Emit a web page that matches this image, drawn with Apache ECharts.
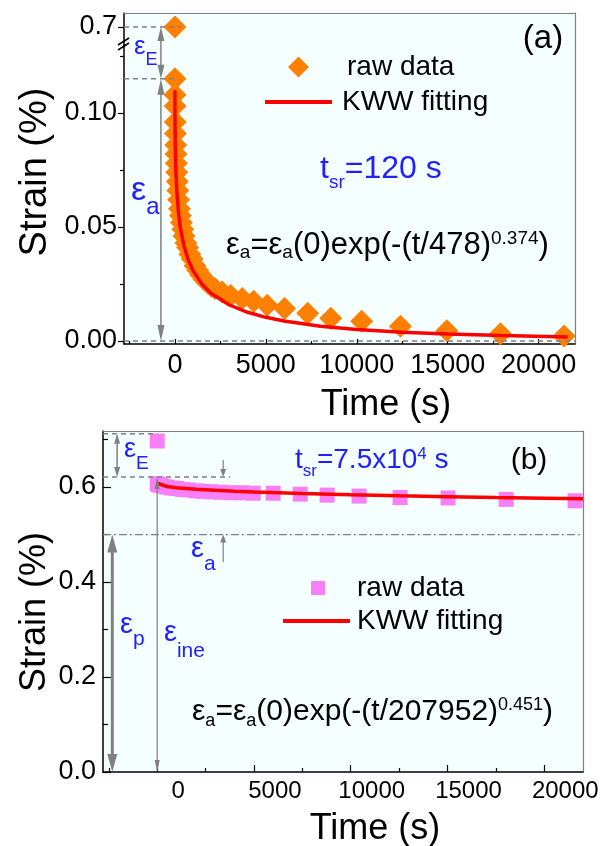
<!DOCTYPE html>
<html><head><meta charset="utf-8">
<script src="https://cdn.jsdelivr.net/npm/echarts@6/dist/echarts.min.js"></script>
<style>html,body{margin:0;padding:0;background:#fff}#c{width:606px;height:846px}</style>
</head><body><div id="c"></div>
<script>
// ---------- data ----------
// Panel (a): t_sr = 120 s
const timeRawA = [0, 0, 5, 10, 20, 30, 45, 60, 80, 100, 130, 160, 200, 250, 300, 360, 430, 500, 600, 700, 820, 950, 1100, 1250, 1420, 1600, 1800, 2000, 2200, 2600, 3070, 3700, 4330, 5070, 6030, 7300, 8570, 10270, 12400, 14950, 17900, 21400];
const strainRawA = [0.700, 0.115, 0.108, 0.103, 0.096, 0.091, 0.086, 0.082, 0.078, 0.074, 0.070, 0.066, 0.062, 0.058, 0.055, 0.052, 0.049, 0.046, 0.043, 0.041, 0.038, 0.036, 0.033, 0.031, 0.029, 0.027, 0.0255, 0.024, 0.023, 0.0215, 0.020, 0.0187, 0.0174, 0.0157, 0.0143, 0.0122, 0.0100, 0.0087, 0.0065, 0.0045, 0.0032, 0.0022];
const timeFitA = [0, 2, 5, 20, 50, 100, 200, 300, 500, 750, 1000, 1500, 2000, 3000, 4000, 5000, 6000, 8000, 10000, 12500, 15000, 18000, 21600];
const strainFitA = [0.110, 0.101, 0.096, 0.0848, 0.0748, 0.0659, 0.0559, 0.0496, 0.0416, 0.0352, 0.0308, 0.0248, 0.0208, 0.0158, 0.0126, 0.0104, 0.0088, 0.0065, 0.0051, 0.0039, 0.0031, 0.0024, 0.0018];
// Panel (b): t_sr = 7.5x10^4 s
const timeRawB = [0, 0, 50, 150, 300, 500, 750, 1000, 1300, 1600, 2000, 2400, 2800, 3300, 3800, 4400, 4960, 5990, 7390, 8780, 10430, 12550, 15030, 18030, 21590];
const strainRawB = [0.697, 0.607, 0.605, 0.604, 0.602, 0.600, 0.598, 0.597, 0.595, 0.594, 0.592, 0.591, 0.590, 0.589, 0.588, 0.588, 0.587, 0.587, 0.585, 0.583, 0.581, 0.578, 0.577, 0.574, 0.571];
const timeFitB = [0, 100, 500, 1000, 2000, 3000, 4000, 5000, 7500, 10000, 12500, 15000, 17500, 20000, 22000];
const strainFitB = [0.608, 0.6046, 0.6011, 0.5987, 0.5955, 0.5932, 0.5913, 0.5897, 0.5864, 0.5837, 0.5815, 0.5796, 0.5778, 0.5763, 0.5752];
// ticks
const xTickValues = [0, 5000, 10000, 15000, 20000];
const xMinorTicks = [-2500, 2500, 7500, 12500, 17500];
const yTicksATop = [0.7];
const yTicksA = [0, 0.05, 0.10];
const yMinorA = [0.025, 0.075, 0.125];
const yTicksB = [0, 0.2, 0.4, 0.6];
const yMinorB = [0.1, 0.3, 0.5, 0.7];
// annotation levels (strain values)
const epsE_A = [0.7, 0.115];
const epsE_B = [0.712, 0.621];
const epsP_B = 0.50;

// ---------- styling ----------
const FONT = '"Liberation Sans", Arial, Helvetica, sans-serif';
const BG = '#f5ffff', GRAY = '#808080', BLUE = '#2020ff';
const ORANGE = '#ff8000', PINK = '#f77ff7', RED = '#ff0000';
const X_MIN = -2800, X_MAX = 22000;

const pairs = (xs, ys, f) => xs.map((x, i) => [x, ys[i]]).filter(p => f ? f(p) : true);

const chart = echarts.init(document.getElementById('c'), null, {renderer: 'canvas'});

function gridAxisX(gi, extra) {
  return Object.assign({gridIndex: gi, type: 'value', min: X_MIN, max: X_MAX, splitLine: {show: false}}, extra);
}
function gridAxisY(gi, min, max, extra) {
  return Object.assign({gridIndex: gi, type: 'value', min, max, splitLine: {show: false}}, extra);
}
const noLabel = {show: false};
const grayLine = {onZero: false, lineStyle: {color: GRAY, width: 1.2}};
const blackLine = {onZero: false, lineStyle: {color: '#000', width: 1.5}};
const tickLine = {color: '#000', width: 1.2};
const plain = v => String(v);

const option = {
  animation: false,
  backgroundColor: '#ffffff',
  textStyle: {fontFamily: FONT},
  grid: [
    {left: 124, top: 13, width: 451, height: 32, show: true, backgroundColor: BG, borderWidth: 0},
    {left: 124, top: 45, width: 451, height: 299, show: true, backgroundColor: BG, borderWidth: 0},
    {left: 103, top: 431, width: 480, height: 341, show: true, backgroundColor: BG, borderWidth: 0}
  ],
  xAxis: [
    gridAxisX(0, {position: 'top', axisLine: grayLine, axisTick: {show: false}, axisLabel: noLabel}),
    gridAxisX(1, {position: 'bottom', axisLine: blackLine,
      axisTick: {inside: true, length: 5, customValues: xTickValues, lineStyle: tickLine},
      axisLabel: {customValues: xTickValues, formatter: plain, fontSize: 27, color: '#000', fontFamily: FONT, margin: 8}}),
    gridAxisX(1, {position: 'bottom', axisLine: {show: false, onZero: false},
      axisTick: {inside: true, length: 3, customValues: xMinorTicks, lineStyle: tickLine}, axisLabel: noLabel}),
    gridAxisX(2, {position: 'bottom', axisLine: blackLine,
      axisTick: {inside: true, length: 7, customValues: xTickValues, lineStyle: tickLine},
      axisLabel: {customValues: xTickValues, formatter: plain, fontSize: 24, color: '#000', fontFamily: FONT, margin: 7, padding: [0, 0, 0, 42]}}),
    gridAxisX(2, {position: 'bottom', axisLine: {show: false, onZero: false},
      axisTick: {inside: true, length: 4, customValues: xMinorTicks, lineStyle: tickLine}, axisLabel: noLabel}),
    gridAxisX(2, {position: 'top', axisLine: grayLine, axisTick: {show: false}, axisLabel: noLabel})
  ],
  yAxis: [
    gridAxisY(0, 0.6921, 0.7061, {position: 'left', axisLine: blackLine,
      axisTick: {inside: false, length: 6, customValues: yTicksATop, lineStyle: tickLine},
      axisLabel: {customValues: yTicksATop, formatter: v => v.toFixed(1), fontSize: 27, color: '#000', fontFamily: FONT, margin: 7}}),
    gridAxisY(0, 0.6921, 0.7061, {position: 'right', axisLine: grayLine, axisTick: {show: false}, axisLabel: noLabel}),
    gridAxisY(1, -0.0013, 0.1298, {position: 'left', axisLine: blackLine,
      axisTick: {inside: false, length: 6, customValues: yTicksA, lineStyle: tickLine},
      axisLabel: {customValues: yTicksA, formatter: v => v.toFixed(2), fontSize: 27, color: '#000', fontFamily: FONT, margin: 7}}),
    gridAxisY(1, -0.0013, 0.1298, {position: 'left', axisLine: {show: false, onZero: false},
      axisTick: {inside: false, length: 4, customValues: yMinorA, lineStyle: tickLine}, axisLabel: noLabel}),
    gridAxisY(1, -0.0013, 0.1298, {position: 'right', axisLine: grayLine, axisTick: {show: false}, axisLabel: noLabel}),
    gridAxisY(2, 0, 0.718, {position: 'left', axisLine: blackLine,
      axisTick: {inside: true, length: 8, customValues: yTicksB, lineStyle: tickLine},
      axisLabel: {customValues: yTicksB, formatter: v => v.toFixed(1), fontSize: 27, color: '#000', fontFamily: FONT, margin: 7}}),
    gridAxisY(2, 0, 0.718, {position: 'left', axisLine: {show: false, onZero: false},
      axisTick: {inside: true, length: 5, customValues: yMinorB, lineStyle: tickLine}, axisLabel: noLabel}),
    gridAxisY(2, 0, 0.718, {position: 'right', axisLine: grayLine, axisTick: {show: false}, axisLabel: noLabel})
  ],
  legend: [
    {data: [{name: 'raw data', icon: 'diamond'}], left: 288, top: 53, orient: 'vertical', padding: 0, selectedMode: false,
      itemWidth: 21, itemHeight: 21, textStyle: {fontSize: 28, fontFamily: FONT, color: '#000', lineHeight: 28, padding: [0, 0, 0, 33]}},
    {data: [{name: 'KWW fitting', icon: 'rect'}], left: 265, top: 88, orient: 'vertical', padding: 0, selectedMode: false,
      itemWidth: 67, itemHeight: 4, textStyle: {fontSize: 28, fontFamily: FONT, color: '#000', lineHeight: 28, padding: [0, 0, 0, 5]}},
    {data: [{name: 'raw data ', icon: 'rect'}], left: 311, top: 574, orient: 'vertical', padding: 0, selectedMode: false,
      itemWidth: 14, itemHeight: 14, textStyle: {fontSize: 28, fontFamily: FONT, color: '#000', lineHeight: 28, padding: [0, 0, 0, 27]}},
    {data: [{name: 'KWW fitting ', icon: 'rect'}], left: 283, top: 607, orient: 'vertical', padding: 0, selectedMode: false,
      itemWidth: 67, itemHeight: 4, textStyle: {fontSize: 28, fontFamily: FONT, color: '#000', lineHeight: 28, padding: [0, 0, 0, 2]}}
  ],
  series: [
    {name: 'raw data', type: 'scatter', xAxisIndex: 0, yAxisIndex: 0, symbol: 'diamond', symbolSize: 23,
      itemStyle: {color: ORANGE, opacity: 1}, color: ORANGE, data: pairs(timeRawA, strainRawA, p => p[1] > 0.5)},
    {name: 'raw data', type: 'scatter', xAxisIndex: 1, yAxisIndex: 2, symbol: 'diamond', symbolSize: 23,
      itemStyle: {color: ORANGE, opacity: 1}, color: ORANGE, data: pairs(timeRawA, strainRawA, p => p[1] <= 0.5)},
    {name: 'KWW fitting', type: 'line', xAxisIndex: 1, yAxisIndex: 2, showSymbol: false, color: RED,
      lineStyle: {color: RED, width: 3.5}, data: pairs(timeFitA, strainFitA)},
    {name: 'raw data ', type: 'scatter', xAxisIndex: 3, yAxisIndex: 5, symbol: 'rect', symbolSize: 15,
      itemStyle: {color: PINK, opacity: 1}, color: PINK, data: pairs(timeRawB, strainRawB)},
    {name: 'KWW fitting ', type: 'line', xAxisIndex: 3, yAxisIndex: 5, showSymbol: false, color: RED,
      lineStyle: {color: RED, width: 3.5}, data: pairs(timeFitB, strainFitB)}
  ]
};
chart.setOption(option);

// ---------- annotations positioned through the axes ----------
const A_TOP = [0, 0], A_LOW = [1, 2], PB = [3, 5];
const P = (ax, pt) => chart.convertToPixel({xAxisIndex: ax[0], yAxisIndex: ax[1]}, pt);
const G = [];
function seg(p1, p2, st) {
  G.push({type: 'line', z: 10, silent: true, shape: {x1: p1[0], y1: p1[1], x2: p2[0], y2: p2[1]},
    style: Object.assign({stroke: GRAY, lineWidth: 1.5}, st)});
}
function head(tip, from, len, w, color) {
  const dx = tip[0] - from[0], dy = tip[1] - from[1], L = Math.hypot(dx, dy);
  const ux = dx / L, uy = dy / L, bx = tip[0] - ux * len, by = tip[1] - uy * len;
  G.push({type: 'polygon', z: 10, silent: true,
    shape: {points: [[tip[0], tip[1]], [bx - uy * w / 2, by + ux * w / 2], [bx + uy * w / 2, by - ux * w / 2]]},
    style: {fill: color}});
  return [tip[0] - ux * len * 0.6, tip[1] - uy * len * 0.6];
}
function arrow(p1, p2, o) {
  let a = p1, b = p2;
  if (o.start) a = head(p1, p2, o.len, o.w, GRAY);
  if (o.end) b = head(p2, p1, o.len, o.w, GRAY);
  seg(a, b, {lineWidth: o.lw || 1.5});
}
function rtext(x, y, text, size, color, o) {
  o = o || {};
  const sub = o.sub || Math.round(size * 0.62);
  const so = o.so != null ? o.so : Math.round(size * 0.27);
  const po = o.po != null ? o.po : Math.round(size * 0.2);
  G.push({type: 'text', z: 20, silent: true, x, y, rotation: o.rot || 0,
    style: {text, fill: color, fontSize: size, fontFamily: FONT, lineHeight: size,
      align: o.align || 'left', verticalAlign: 'middle',
      rich: {
        s: {fontSize: sub, fontFamily: FONT, fill: color, lineHeight: sub, padding: [2 * so, 0, 0, 0]},
        p: {fontSize: sub, fontFamily: FONT, fill: color, lineHeight: sub, padding: [0, 0, 2 * po, 0]}
      }}});
}

// panel (a)
const dash = [5, 4];
seg(P(A_TOP, [X_MIN, epsE_A[0]]), P(A_TOP, [330, epsE_A[0]]), {lineDash: dash});
seg(P(A_LOW, [X_MIN, epsE_A[1]]), P(A_LOW, [50, epsE_A[1]]), {lineDash: dash});
seg(P(A_LOW, [X_MIN, 0]), P(A_LOW, [X_MAX, 0]), {lineDash: dash});
arrow(P(A_TOP, [-770, epsE_A[0]]), P(A_LOW, [-770, epsE_A[1]]), {start: true, end: true, len: 14, w: 7});
arrow(P(A_LOW, [-770, epsE_A[1]]), P(A_LOW, [-770, 0]), {start: true, end: true, len: 16, w: 7});
// axis break marks
const bk = P(A_TOP, [X_MIN, 0.6921]);
seg([bk[0] - 6, bk[1] + 0], [bk[0] + 5, bk[1] - 7], {stroke: '#000', lineWidth: 1.6});
seg([bk[0] - 6, bk[1] + 5], [bk[0] + 5, bk[1] - 2], {stroke: '#000', lineWidth: 1.6});

// panel (b)
seg(P(PB, [X_MIN, epsE_B[0]]), P(PB, [0, epsE_B[0]]), {lineDash: dash});
seg(P(PB, [X_MIN, epsE_B[1]]), P(PB, [3770, epsE_B[1]]), {lineDash: dash});
seg(P(PB, [X_MIN, epsP_B]), P(PB, [X_MAX, epsP_B]), {lineDash: [8, 3, 2, 3], lineWidth: 1.2});
arrow(P(PB, [-2070, epsE_B[0]]), P(PB, [-2070, epsE_B[1]]), {start: true, end: true, len: 10, w: 6});
arrow(P(PB, [3410, 0.657]), P(PB, [3410, epsE_B[1]]), {end: true, len: 8, w: 6, lw: 1.2});
arrow(P(PB, [3410, 0.442]), P(PB, [3410, epsP_B]), {end: true, len: 8, w: 6, lw: 1.2});
arrow(P(PB, [0, epsE_B[1]]), P(PB, [0, 0]), {start: true, end: true, len: 12, w: 5, lw: 1.2});
arrow(P(PB, [-2320, epsP_B]), P(PB, [-2320, 0]), {start: true, end: true, len: 18, w: 10, lw: 3});

// texts
rtext(543, 39, '(a)', 33, '#000', {align: 'center'});
rtext(320, 169, 't{s|sr}=120 s', 32, BLUE, {sub: 19, so: 14});
rtext(226, 245, 'ε{s|a}=ε{s|a}(0)exp(-(t/478){p|0.374})', 31, '#000', {sub: 19, so: 8, po: 6});
rtext(134, 47, 'ε{s|E}', 26, BLUE, {sub: 18, so: 13});
rtext(131, 191, 'ε{s|a}', 34, BLUE, {sub: 24, so: 16});
rtext(36, 172, 'Strain (%)', 38, '#000', {align: 'center', rot: Math.PI / 2});
rtext(386, 405, 'Time (s)', 36, '#000', {align: 'center'});

rtext(529, 461, '(b)', 30, '#000', {align: 'center'});
rtext(295, 460, 't{s|sr}=7.5x10{p|4} s', 28, BLUE, {sub: 17, so: 11, po: 6});
rtext(192, 712, 'ε{s|a}=ε{s|a}(0)exp(-(t/207952){p|0.451})', 30, '#000', {sub: 18, so: 9, po: 7});
rtext(124, 450, 'ε{s|E}', 27, BLUE, {sub: 19, so: 14});
rtext(191, 549, 'ε{s|a}', 29, BLUE, {sub: 21, so: 15});
rtext(120, 625, 'ε{s|p}', 29, BLUE, {sub: 21, so: 14});
rtext(164, 633, 'ε{s|ine}', 29, BLUE, {sub: 21, so: 18});
rtext(35, 612, 'Strain (%)', 36, '#000', {align: 'center', rot: Math.PI / 2});
rtext(375, 829, 'Time (s)', 36, '#000', {align: 'center'});

chart.setOption({graphic: G});
</script></body></html>
